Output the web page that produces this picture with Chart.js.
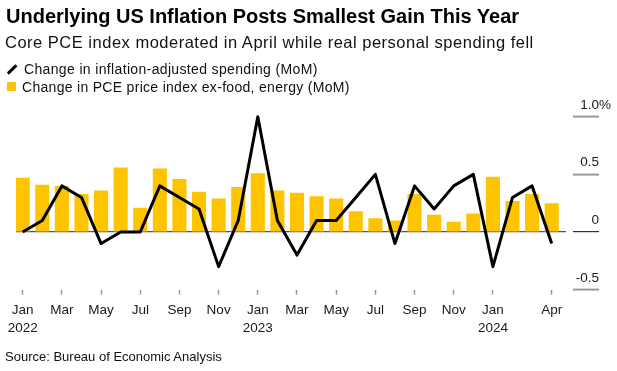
<!DOCTYPE html>
<html>
<head>
<meta charset="utf-8">
<script src="https://cdn.jsdelivr.net/npm/chart.js@4/dist/chart.umd.min.js"></script>
<style>
body{margin:0;background:#fff;font-family:"Liberation Sans",Arial,sans-serif;color:#000;}
#wrap{position:relative;width:617px;height:371px;overflow:hidden;}
#chart{position:absolute;left:0;top:0;}
.title{position:absolute;left:6px;top:5px;font-size:20px;font-weight:bold;white-space:nowrap;}
.subtitle{position:absolute;left:5px;top:33px;font-size:16.5px;letter-spacing:0.5px;white-space:nowrap;color:#111;}
.legend{position:absolute;left:6px;font-size:14px;letter-spacing:0.35px;white-space:nowrap;color:#111;}
.legend .ln{display:inline-block;width:12px;height:2.6px;background:#000;transform:rotate(-45deg);vertical-align:middle;margin:0 6px 2px 0;}
.legend .sq{display:inline-block;width:9px;height:9px;background:#ffc400;vertical-align:middle;margin:0 6px 3px 1px;}
.source{position:absolute;left:5px;top:349px;font-size:13px;white-space:nowrap;color:#111;}
</style>
</head>
<body>
<div id="wrap">
    <canvas id="chart" width="617" height="371"></canvas>
    <div class="title">Underlying US Inflation Posts Smallest Gain This Year</div>
    <div class="subtitle">Core PCE index moderated in April while real personal spending fell</div>
    <div class="legend" style="top:61px"><span class="ln"></span>Change in inflation-adjusted spending (MoM)</div>
    <div class="legend" style="top:79px;letter-spacing:0.3px"><span class="sq"></span>Change in PCE price index ex-food, energy (MoM)</div>
    <div class="source">Source: Bureau of Economic Analysis</div>
</div>
<script>
// months Jan 2022 .. Apr 2024
var categories = ["Jan 2022","Feb 2022","Mar 2022","Apr 2022","May 2022","Jun 2022","Jul 2022","Aug 2022","Sep 2022","Oct 2022","Nov 2022","Dec 2022",
                  "Jan 2023","Feb 2023","Mar 2023","Apr 2023","May 2023","Jun 2023","Jul 2023","Aug 2023","Sep 2023","Oct 2023","Nov 2023","Dec 2023",
                  "Jan 2024","Feb 2024","Mar 2024","Apr 2024"];
// real personal spending, MoM %
var spending = [0, 0.1, 0.4, 0.3, -0.1, 0, 0, 0.4, 0.3, 0.2, -0.3, 0.1,
                1.0, 0.1, -0.2, 0.1, 0.1, 0.3, 0.5, -0.1, 0.4, 0.2, 0.4, 0.5,
                -0.3, 0.3, 0.4, -0.1];
// core PCE price index, MoM %
var corePce = [0.47, 0.41, 0.40, 0.33, 0.36, 0.56, 0.21, 0.55, 0.46, 0.35, 0.29, 0.39,
               0.51, 0.36, 0.34, 0.31, 0.29, 0.18, 0.12, 0.10, 0.33, 0.15, 0.09, 0.16,
               0.48, 0.27, 0.33, 0.25];
var labeledMonths = ["Jan 2022","Mar 2022","May 2022","Jul 2022","Sep 2022","Nov 2022",
                     "Jan 2023","Mar 2023","May 2023","Jul 2023","Sep 2023","Nov 2023",
                     "Jan 2024","Apr 2024"];
var yTicks = [-0.5, 0, 0.5, 1.0];
var yTickLabels = ["-0.5", "0", "0.5", "1.0%"];

const ctx = document.getElementById('chart');

function toPoints(arr) {
    return arr.map(function(v, i){ return {x: i, y: v}; });
}

function xLabel(value) {
    var parts = categories[value].split(" ");
    if (parts[0] == "Jan") {
        return [parts[0], parts[1]];
    }
    return parts[0];
}

// right-hand value labels sit above the short grid marks
var yLabelPlugin = {
    id: 'yLabels',
    afterDraw: function(chart) {
        var c = chart.ctx;
        var sc = chart.scales.y;
        var xr = sc.left + 33;
        c.save();
        c.font = '13.5px "Liberation Sans", Arial, sans-serif';
        c.fillStyle = '#1a1a1a';
        c.textAlign = 'right';
        c.textBaseline = 'alphabetic';
        yTicks.forEach(function(v, i){
            var txt = yTickLabels[i];
            var x = xr;
            if (txt.indexOf('%') > -1) {
                x += c.measureText('%').width;
            }
            c.fillText(txt, x, sc.getPixelForValue(v) - 8);
        });
        c.restore();
    }
};

var chart = new Chart(ctx, {
    type: 'bar',
    data: {
        datasets: [
            {
                type: 'line',
                label: 'Change in inflation-adjusted spending (MoM)',
                data: toPoints(spending),
                borderColor: '#000',
                borderWidth: 3,
                borderJoinStyle: 'round',
                pointRadius: 0,
                tension: 0,
                clip: false,
                order: 1
            },
            {
                label: 'Change in PCE price index ex-food, energy (MoM)',
                data: toPoints(corePce),
                backgroundColor: '#ffc400',
                borderWidth: 0,
                categoryPercentage: 1,
                barPercentage: 0.72,
                order: 2
            }
        ]
    },
    options: {
        responsive: false,
        animation: false,
        layout: {padding: {left: 16, top: 116.7, right: 0, bottom: 0}},
        plugins: {legend: {display: false}, tooltip: {enabled: false}},
        scales: {
            x: {
                type: 'linear',
                offset: false,
                bounds: 'data',
                min: -0.342,
                max: 27.73,
                afterBuildTicks: function(scale) {
                    scale.ticks = labeledMonths.map(function(m){ return {value: categories.indexOf(m)}; });
                },
                afterFit: function(scale) { scale.height = 81.3; },
                border: {display: false},
                grid: {offset: false, drawOnChartArea: false, drawTicks: true, tickLength: 5, tickColor: '#999', tickWidth: 1.5},
                ticks: {
                    autoSkip: false,
                    maxRotation: 0,
                    padding: 6,
                    color: '#1a1a1a',
                    font: {family: '"Liberation Sans", Arial, sans-serif', size: 13.5, lineHeight: 1.35},
                    callback: function(value){ return xLabel(value); }
                }
            },
            y: {
                position: 'right',
                min: -0.5,
                max: 1.0,
                afterBuildTicks: function(scale) {
                    scale.ticks = yTicks.map(function(v){ return {value: v}; });
                },
                afterFit: function(scale) { scale.width = 51; },
                border: {display: false},
                grid: {
                    drawOnChartArea: true,
                    drawTicks: true,
                    tickLength: 33,
                    tickBorderDash: [26, 7],
                    tickBorderDashOffset: 26,
                    color: function(c){ return c.tick && c.tick.value === 0 ? '#555' : 'rgba(0,0,0,0)'; },
                    lineWidth: 1.2,
                    tickColor: function(c){ return c.tick && c.tick.value === 0 ? '#333' : '#9a9a9a'; },
                    tickWidth: function(c){ return c.tick && c.tick.value === 0 ? 1.2 : 2; }
                },
                ticks: {display: false}
            }
        }
    },
    plugins: [yLabelPlugin]
});
</script>
</body>
</html>
